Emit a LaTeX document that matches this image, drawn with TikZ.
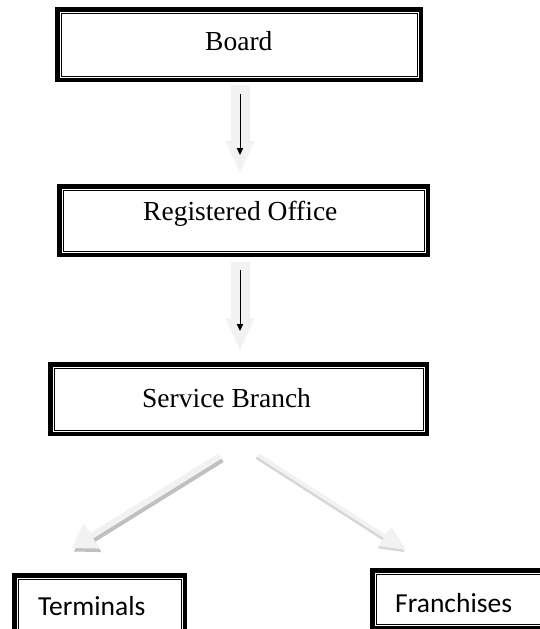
\documentclass[tikz,border=0pt]{standalone}
\usepackage{fontspec}
\setmainfont{Liberation Serif}
\newfontfamily\calibrifont{Carlito}
\usetikzlibrary{arrows.meta,calc}
\definecolor{arrowlight}{HTML}{F2F2F2}
\definecolor{arrowshade}{HTML}{C0C0C0}
\definecolor{arrowshadeb}{HTML}{D6D6D6}
\begin{document}
\begin{tikzpicture}[x=1pt,y=-1pt,
  orgbox/.style={draw=black, line width=4.5pt, inner sep=0pt,
    path picture={\draw[line width=1pt]
      ([shift={(3.75pt,-3.75pt)}]path picture bounding box.north west) rectangle
      ([shift={(-3.75pt,3.75pt)}]path picture bounding box.south east);}},
  serlbl/.style={inner sep=0pt, anchor=base west, font=\fontsize{27.5pt}{32pt}\selectfont},
  sanslbl/.style={inner sep=0pt, anchor=base west, font=\calibrifont\fontsize{27.5pt}{32pt}\selectfont},
  blockarrow/.style={draw=arrowlight, line width=19pt,
    -{Triangle[length=32pt,width=29pt,line width=0pt]}},
  thinarrow/.style={draw=black, line width=0.9pt,
    -{Triangle[length=7pt,width=6.5pt,line width=0pt]}},
]
\useasboundingbox (0,0) rectangle (540,629);

% boxes
\node[orgbox, minimum width=363.5pt, minimum height=70.5pt] (board) at (239,44.5) {};
\node[orgbox, minimum width=368.5pt, minimum height=68.5pt] (reg) at (243.5,220.5) {};
\node[orgbox, minimum width=376.5pt, minimum height=69.5pt] (serv) at (238.5,399) {};
\node[orgbox, minimum width=170.5pt, minimum height=62.5pt] (term) at (99.5,606.5) {};
\node[orgbox, minimum width=173.5pt, minimum height=57.5pt] (fran) at (459,599) {};

% texts
\node[serlbl] (boardtxt) at (205,50) {Board};
\node[serlbl] (regtxt) at (143,220) {Registered Office};
\node[serlbl] (servtxt) at (142,407) {Service Branch};
\node[sanslbl] (termtxt) at (38,615) {Terminals};
\node[sanslbl] (frantxt) at (395,612) {Franchises};

% vertical arrows
\coordinate (ax) at (240,0);
\draw[blockarrow, shorten <=3pt, shorten >=11pt] (board.south -| ax) -- (reg.north -| ax);
\draw[thinarrow, shorten <=12pt, shorten >=29pt] (board.south -| ax) -- (reg.north -| ax);
\draw[blockarrow, shorten <=5pt, shorten >=12pt] (reg.south -| ax) -- (serv.north -| ax);
\draw[thinarrow, shorten <=13pt, shorten >=31pt] (reg.south -| ax) -- (serv.north -| ax);

% diagonal arrows
\coordinate (lstart) at (220,456);
\coordinate (ltip) at (72,548);
\coordinate (rstart) at (258,455);
\coordinate (rtip) at (406,550);
\draw[draw=arrowshade, line width=6pt, -{Triangle[length=23pt,width=30pt,line width=0pt]}]
  ($(lstart)+(2,3.5)$) -- ($(ltip)+(2,3.5)$);
\draw[draw=arrowlight, line width=6pt, -{Triangle[length=23pt,width=30pt,line width=0pt]}]
  (lstart) -- (ltip);
\draw[draw=arrowshadeb, line width=4pt, -{Triangle[length=25pt,width=23pt,line width=0pt]}]
  ($(rstart)+(-1.3,2.1)$) -- ($(rtip)+(-1.3,2.1)$);
\draw[draw=arrowlight, line width=4pt, -{Triangle[length=25pt,width=23pt,line width=0pt]}]
  (rstart) -- (rtip);
\end{tikzpicture}
\end{document}
